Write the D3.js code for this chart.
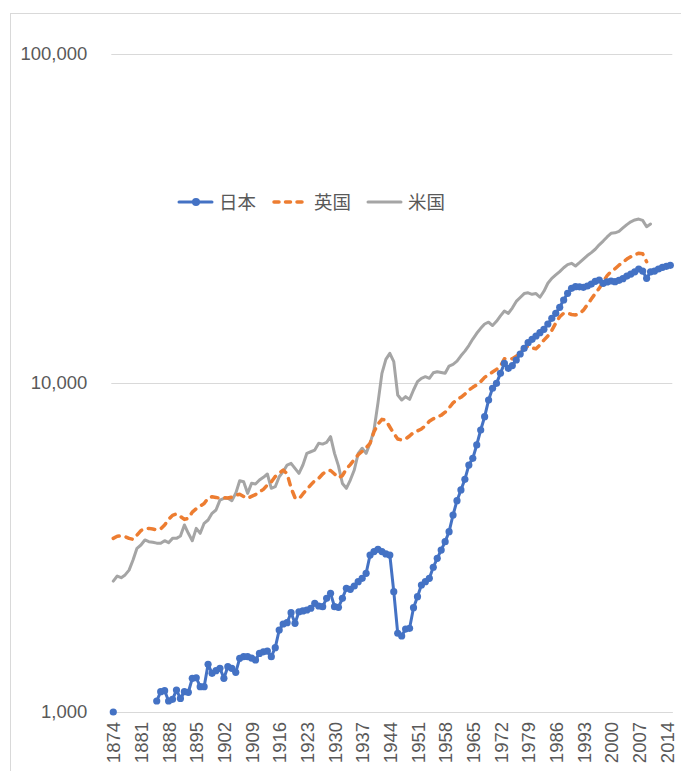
<!DOCTYPE html>
<html>
<head>
<meta charset="utf-8">
<script src="https://cdn.jsdelivr.net/npm/d3@7"></script>
<style>
  html, body { margin: 0; padding: 0; background: #fff; }
  svg { display: block; }
</style>
</head>
<body>
<script>
// Per-capita GDP, 1874–2015 (log scale)
const firstYear = 1874;
const lastYear = 2015;
const years = d3.range(firstYear, lastYear + 1);
const xTickYears = d3.range(1874, 2015, 7);
const yTickValues = [1000, 10000, 100000];
const seriesNames = ["日本", "英国", "米国"];

// Japan, 1874–2015 (no figures for 1875–1884)
const japan = [
  1000, null, null, null, null, null, null, null, null, null, null,
  1080, 1153, 1161, 1080, 1093, 1166, 1100, 1153, 1148, 1266,
  1271, 1194, 1194, 1396, 1311, 1335, 1358, 1266, 1373, 1358,
  1320, 1456, 1473, 1473, 1459, 1439, 1507, 1524, 1532, 1473,
  1569, 1775, 1851, 1868, 2004, 1860, 2017, 2028, 2042, 2067,
  2140, 2100, 2090, 2215, 2295, 2090, 2080, 2215, 2377, 2360,
  2415, 2490, 2548, 2640, 3000, 3074, 3123, 3074, 3024, 3000,
  2321, 1735, 1702, 1787, 1796, 2075, 2241, 2432, 2490, 2549,
  2754, 2932, 3106, 3294, 3532, 3970, 4389, 4730, 5096, 5631,
  5903, 6481, 7197, 7899, 8876, 9640, 9977, 10700, 11480, 11085,
  11300, 11747, 12250, 12748, 13265, 13575, 13895, 14223, 14560, 15112,
  15726, 16282, 16987, 17875, 18732, 19399, 19627, 19600, 19540, 19715,
  19990, 20370, 20560, 20090, 20280, 20420, 20320, 20520, 20750, 21140,
  21440, 21780, 22210, 21880, 20800, 21780, 21880, 22210, 22470, 22630,
  22790
];

// United Kingdom, 1874–2009
const uk = [
  3371, 3420, 3430, 3413, 3370, 3348, 3450, 3560, 3610, 3615,
  3598, 3580, 3600, 3700, 3850, 3960, 3999, 3930, 3850, 3880,
  4050, 4150, 4230, 4300, 4470, 4512, 4490, 4462, 4480, 4470,
  4500, 4560, 4588, 4520, 4462, 4520, 4580, 4670, 4750, 4900,
  5000, 5200, 5314, 5440, 5300, 4800, 4480, 4440, 4600, 4750,
  4900, 5050, 5130, 5290, 5400, 5420, 5290, 5150, 5230, 5480,
  5650, 5850, 6050, 6200, 6350, 6557, 7111, 7500, 7755, 7700,
  7350, 7031, 6760, 6709, 6760, 6901, 7080, 7150, 7250, 7420,
  7650, 7780, 7880, 7980, 8150, 8400, 8700, 8900, 9050, 9250,
  9520, 9700, 9870, 10100, 10400, 10600, 10800, 11000, 11250, 11850,
  11900, 11850, 12050, 12350, 12750, 12950, 12800, 12700, 13050, 13500,
  13900, 14450, 15200, 15900, 16300, 16300, 16150, 16100, 16250, 16650,
  17300, 18000, 18700, 19400, 20300, 21200, 21800, 22250, 22800, 23300,
  23800, 24200, 24550, 24800, 24700, 23370
];

// United States, 1874–2010
const us = [
  2500, 2590, 2560, 2610, 2700, 2897, 3145, 3218, 3333, 3294,
  3280, 3260, 3256, 3317, 3271, 3371, 3371, 3427, 3702, 3493,
  3317, 3615, 3493, 3746, 3834, 4018, 4111, 4407, 4462, 4462,
  4388, 4620, 5047, 5011, 4620, 4955, 4932, 5070, 5169, 5290,
  4786, 4840, 5190, 5377, 5633, 5700, 5504, 5314, 5633, 6112,
  6180, 6252, 6557, 6520, 6600, 6867, 6112, 5600, 4950, 4786,
  5070, 5440, 6112, 6332, 6112, 6557, 7197, 8700, 10700, 11800,
  12310, 11610, 9194, 8876, 9088, 8917, 9522, 10090, 10335, 10450,
  10335, 10740, 10823, 10760, 10700, 11260, 11396, 11650, 12100, 12500,
  13000, 13600, 14160, 14660, 15112, 15300, 14950, 15400, 16000, 16550,
  16280, 16900, 17700, 18200, 18700, 18800, 18600, 18700, 18220, 19000,
  20100, 20800, 21300, 21800, 22400, 22900, 23100, 22680, 23210, 23800,
  24400, 24900, 25500, 26300, 27000, 27800, 28500, 28600, 28900, 29600,
  30300, 30900, 31300, 31500, 31200, 29860, 30430
];

const W = 681, H = 771;
const plot = { left: 111.3, right: 672.3, top: 54, bottom: 712 };
const textColor = "#595959";
const gridColor = "#d9d9d9";
const latinFont = "'Liberation Sans', Arial, sans-serif";
const cjkFont = "'Noto Sans CJK JP', 'Liberation Sans', sans-serif";
const colors = { japan: "#4472C4", uk: "#ED7D31", us: "#A5A5A5" };

const svg = d3.select("body").append("svg")
  .attr("width", W).attr("height", H);

// chart area frame
svg.append("rect")
  .attr("x", 10.5).attr("y", 13.5)
  .attr("width", W + 20).attr("height", H + 20)
  .attr("fill", "#fff").attr("stroke", gridColor).attr("stroke-width", 1);

const x = d3.scalePoint()
  .domain(years)
  .range([plot.left, plot.right])
  .padding(0.5);

const y = d3.scaleLog()
  .domain([1000, 100000])
  .range([plot.bottom, plot.top]);

// value axis with gridlines
const yAxis = svg.append("g")
  .attr("transform", `translate(${plot.left},0)`)
  .call(d3.axisLeft(y)
    .tickValues(yTickValues)
    .tickFormat(d3.format(","))
    .tickSize(-(plot.right - plot.left))
    .tickPadding(24));
yAxis.select(".domain").remove();
yAxis.selectAll(".tick line").attr("stroke", gridColor).attr("stroke-width", 1);
yAxis.selectAll(".tick text")
  .attr("fill", textColor)
  .style("font-family", latinFont)
  .style("font-size", "18.5px");

// category axis
const xAxis = svg.append("g")
  .attr("transform", `translate(0,${plot.bottom})`)
  .call(d3.axisBottom(x)
    .tickValues(xTickYears)
    .tickSize(0)
    .tickSizeOuter(0));
xAxis.select(".domain").attr("stroke", gridColor).attr("stroke-width", 1);
xAxis.selectAll(".tick text")
  .attr("transform", "rotate(-90)")
  .attr("x", -10)
  .attr("y", 0)
  .attr("dy", "0.36em")
  .style("text-anchor", "end")
  .attr("fill", textColor)
  .style("font-family", latinFont)
  .style("font-size", "18.5px");

function toPoints(values) {
  return values.map((v, i) => ({ year: firstYear + i, v }));
}

const line = d3.line()
  .defined(d => d.v != null)
  .x(d => x(d.year))
  .y(d => y(d.v));

const g = svg.append("g");

// 米国
g.append("path")
  .datum(toPoints(us))
  .attr("d", line)
  .attr("fill", "none")
  .attr("stroke", colors.us)
  .attr("stroke-width", 3)
  .attr("stroke-linejoin", "round")
  .attr("stroke-linecap", "round");

// 英国
g.append("path")
  .datum(toPoints(uk))
  .attr("d", line)
  .attr("fill", "none")
  .attr("stroke", colors.uk)
  .attr("stroke-width", 3.5)
  .attr("stroke-dasharray", "6.5,7")
  .attr("stroke-linejoin", "round")
  .attr("stroke-linecap", "round");

// 日本
const jp = toPoints(japan);
g.append("path")
  .datum(jp)
  .attr("d", line)
  .attr("fill", "none")
  .attr("stroke", colors.japan)
  .attr("stroke-width", 3)
  .attr("stroke-linejoin", "round");
g.selectAll("circle.jp")
  .data(jp.filter(d => d.v != null))
  .join("circle")
  .attr("class", "jp")
  .attr("cx", d => x(d.year))
  .attr("cy", d => y(d.v))
  .attr("r", 3.6)
  .attr("fill", colors.japan);

// legend
const legendY = 202;
const legendItems = [
  { name: seriesNames[0], color: colors.japan, x0: 178, dash: null, marker: true, width: 3 },
  { name: seriesNames[1], color: colors.uk, x0: 273, dash: "5,6.5", marker: false, width: 3.5 },
  { name: seriesNames[2], color: colors.us, x0: 367, dash: null, marker: false, width: 3 }
];
const legend = svg.append("g");
legendItems.forEach(item => {
  legend.append("line")
    .attr("x1", item.x0 + 1).attr("x2", item.x0 + 34)
    .attr("y1", legendY).attr("y2", legendY)
    .attr("stroke", item.color)
    .attr("stroke-width", item.width)
    .attr("stroke-linecap", "round")
    .attr("stroke-dasharray", item.dash);
  if (item.marker) {
    legend.append("circle")
      .attr("cx", item.x0 + 18).attr("cy", legendY).attr("r", 4)
      .attr("fill", item.color);
  }
  legend.append("text")
    .attr("x", item.x0 + 41).attr("y", legendY)
    .attr("dy", "0.36em")
    .attr("fill", textColor)
    .style("font-family", cjkFont)
    .style("font-size", "18.5px")
    .text(item.name);
});
</script>
</body>
</html>
